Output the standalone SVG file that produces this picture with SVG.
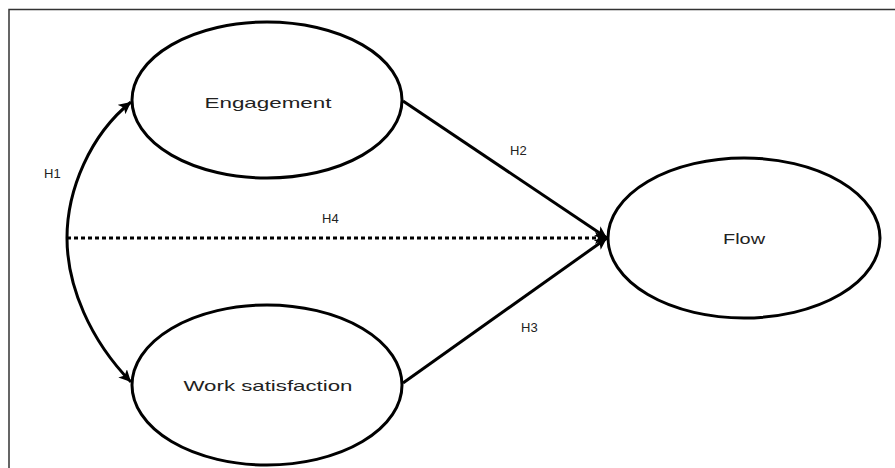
<svg xmlns="http://www.w3.org/2000/svg" width="895" height="468" viewBox="0 0 895 468">
<style>
.node{fill:#fff;stroke:#000;stroke-width:3}
.lbl{font-family:"Liberation Sans",Arial,sans-serif;font-size:15px;fill:#222;text-anchor:middle;dominant-baseline:central}
.h{font-family:"Liberation Sans",Arial,sans-serif;font-size:13px;fill:#222}
.edge{fill:none;stroke:#000;stroke-width:3}
.frame{fill:none;stroke:#333;stroke-width:1.5}
</style>
<defs>
<marker id="arr" markerUnits="userSpaceOnUse" markerWidth="14" markerHeight="12" refX="12" refY="6" orient="auto">
<path d="M0,0 L12,6 L0,12 L3,6 z" fill="#000"/>
</marker>
</defs>
<rect width="895" height="468" fill="#fff"/>
<path class="frame" d="M9,468 L9,9.5 L895,9.5"/>
<g id="connectors">
<path class="edge" d="M67,238 C67,190 90,135 131,102" marker-end="url(#arr)"/>
<path class="edge" d="M67,238 C67,286 90,340 131,382" marker-end="url(#arr)"/>
<line class="edge" x1="67" y1="238" x2="607" y2="238" stroke-dasharray="4 3" marker-end="url(#arr)"/>
<line class="edge" x1="403" y1="101" x2="607" y2="238" marker-end="url(#arr)"/>
<line class="edge" x1="403" y1="383" x2="607" y2="238" marker-end="url(#arr)"/>
<text class="h" x="44" y="178">H1</text>
<text class="h" x="510" y="155">H2</text>
<text class="h" x="322" y="223">H4</text>
<text class="h" x="521" y="332">H3</text>
</g>
<g id="engagement">
<ellipse class="node" cx="267" cy="100" rx="135" ry="78"/>
<text class="lbl" x="268" y="102" textLength="127" lengthAdjust="spacingAndGlyphs">Engagement</text>
</g>
<g id="work-satisfaction">
<ellipse class="node" cx="267" cy="385" rx="135" ry="80"/>
<text class="lbl" x="268" y="385" textLength="169" lengthAdjust="spacingAndGlyphs">Work satisfaction</text>
</g>
<g id="flow">
<ellipse class="node" cx="744" cy="238" rx="136" ry="80"/>
<text class="lbl" x="744" y="238" textLength="42" lengthAdjust="spacingAndGlyphs">Flow</text>
</g>
</svg>
